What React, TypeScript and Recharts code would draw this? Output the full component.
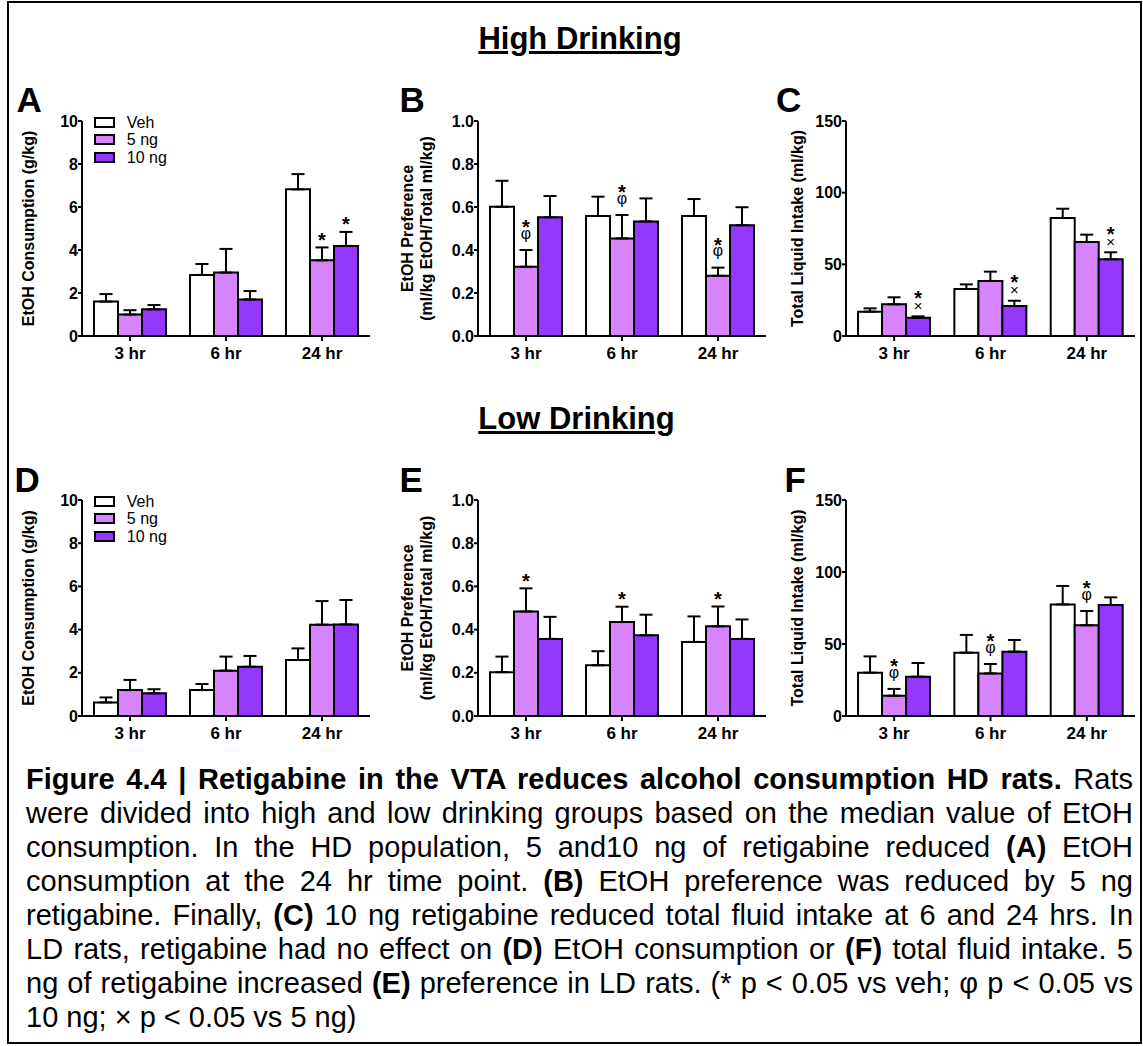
import React from 'react';
import { BarChart, Bar, XAxis, YAxis, ErrorBar, LabelList, Legend } from 'recharts';

const FONT = "'Liberation Sans', Arial, Helvetica, sans-serif";

const timepoints = ['3 hr', '6 hr', '24 hr'];
const groupNames = ['Veh', '5 ng', '10 ng'];
const groupColors = ['#ffffff', '#d783fb', '#9437ff'];

// Panel A - HD EtOH consumption (g/kg)
const aVeh = [1.6, 2.84, 6.82];
const aVehErr = [0.35, 0.51, 0.71];
const a5 = [1.0, 2.95, 3.52];
const a5Err = [0.2, 1.1, 0.6];
const a10 = [1.24, 1.7, 4.19];
const a10Err = [0.2, 0.39, 0.65];
const a5Sig = [[], [], ['*']];
const a10Sig = [[], [], ['*']];

// Panel B - HD EtOH preference
const bVeh = [0.601, 0.558, 0.558];
const bVehErr = [0.121, 0.09, 0.079];
const b5 = [0.322, 0.454, 0.28];
const b5Err = [0.078, 0.109, 0.038];
const b10 = [0.552, 0.533, 0.515];
const b10Err = [0.099, 0.107, 0.084];
const b5Sig = [['*', 'φ'], ['*', 'φ'], ['*', 'φ']];

// Panel C - HD total liquid intake (ml/kg)
const cVeh = [17.0, 32.8, 82.3];
const cVehErr = [2.3, 3.2, 6.5];
const c5 = [22.1, 38.4, 65.6];
const c5Err = [4.9, 6.5, 5.1];
const c10 = [12.8, 20.9, 53.5];
const c10Err = [0.9, 3.7, 4.9];
const c10Sig = [['*', '×'], ['*', '×'], ['*', '×']];

// Panel D - LD EtOH consumption (g/kg)
const dVeh = [0.63, 1.2, 2.59];
const dVehErr = [0.23, 0.28, 0.54];
const d5 = [1.2, 2.1, 4.23];
const d5Err = [0.47, 0.65, 1.09];
const d10 = [1.05, 2.28, 4.24];
const d10Err = [0.19, 0.5, 1.13];

// Panel E - LD EtOH preference
const eVeh = [0.203, 0.235, 0.343];
const eVehErr = [0.072, 0.065, 0.118];
const e5 = [0.484, 0.435, 0.415];
const e5Err = [0.107, 0.071, 0.092];
const e10 = [0.357, 0.374, 0.357];
const e10Err = [0.102, 0.095, 0.09];
const e5Sig = [['*'], ['*'], ['*']];

// Panel F - LD total liquid intake (ml/kg)
const fVeh = [30.1, 44.0, 77.5];
const fVehErr = [11.3, 12.3, 12.8];
const f5 = [14.1, 29.6, 63.0];
const f5Err = [4.7, 6.5, 9.9];
const f10 = [27.3, 44.7, 77.1];
const f10Err = [9.5, 8.1, 5.3];
const f5Sig = [['*', 'φ'], ['*', 'φ'], ['*', 'φ']];

const noSig = [[], [], []];

const consTicks = [0, 2, 4, 6, 8, 10];
const prefTicks = [0, 0.2, 0.4, 0.6, 0.8, 1.0];
const intakeTicks = [0, 50, 100, 150];

const intFmt = (v: number) => String(v);
const decFmt = (v: number) => v.toFixed(1);

type Panel = {
  letter: string;
  letterLeft: number;
  letterBase: number;
  plotLeft: number;
  plotTop: number;
  plotWidth: number;
  plotHeight: number;
  domain: [number, number];
  ticks: number[];
  fmt: (v: number) => string;
  yLabel: string[];
  yLabelX: number[];
  vals: number[][];
  errs: number[][];
  sigs: string[][][];
  legend: boolean;
};

const panels: Panel[] = [
  {
    letter: 'A', letterLeft: 16.5, letterBase: 112,
    plotLeft: 82, plotTop: 121, plotWidth: 288, plotHeight: 215,
    domain: [0, 10], ticks: consTicks, fmt: intFmt,
    yLabel: ['EtOH Consumption (g/kg)'], yLabelX: [28.5],
    vals: [aVeh, a5, a10], errs: [aVehErr, a5Err, a10Err], sigs: [noSig, a5Sig, a10Sig], legend: true,
  },
  {
    letter: 'B', letterLeft: 399.5, letterBase: 112,
    plotLeft: 478, plotTop: 121, plotWidth: 288, plotHeight: 215,
    domain: [0, 1], ticks: prefTicks, fmt: decFmt,
    yLabel: ['EtOH Preference', '(ml/kg EtOH/Total ml/kg)'], yLabelX: [407.5, 426.5],
    vals: [bVeh, b5, b10], errs: [bVehErr, b5Err, b10Err], sigs: [noSig, b5Sig, noSig], legend: false,
  },
  {
    letter: 'C', letterLeft: 776, letterBase: 112,
    plotLeft: 846, plotTop: 121, plotWidth: 289, plotHeight: 215,
    domain: [0, 150], ticks: intakeTicks, fmt: intFmt,
    yLabel: ['Total Liquid Intake (ml/kg)'], yLabelX: [797.5],
    vals: [cVeh, c5, c10], errs: [cVehErr, c5Err, c10Err], sigs: [noSig, noSig, c10Sig], legend: false,
  },
  {
    letter: 'D', letterLeft: 14.5, letterBase: 492,
    plotLeft: 82, plotTop: 500, plotWidth: 288, plotHeight: 216,
    domain: [0, 10], ticks: consTicks, fmt: intFmt,
    yLabel: ['EtOH Consumption (g/kg)'], yLabelX: [28.5],
    vals: [dVeh, d5, d10], errs: [dVehErr, d5Err, d10Err], sigs: [noSig, noSig, noSig], legend: true,
  },
  {
    letter: 'E', letterLeft: 399.5, letterBase: 492,
    plotLeft: 478, plotTop: 500, plotWidth: 288, plotHeight: 216,
    domain: [0, 1], ticks: prefTicks, fmt: decFmt,
    yLabel: ['EtOH Preference', '(ml/kg EtOH/Total ml/kg)'], yLabelX: [407.5, 426.5],
    vals: [eVeh, e5, e10], errs: [eVehErr, e5Err, e10Err], sigs: [noSig, e5Sig, noSig], legend: false,
  },
  {
    letter: 'F', letterLeft: 784.5, letterBase: 492,
    plotLeft: 846, plotTop: 500, plotWidth: 289, plotHeight: 216,
    domain: [0, 150], ticks: intakeTicks, fmt: intFmt,
    yLabel: ['Total Liquid Intake (ml/kg)'], yLabelX: [797.5],
    vals: [fVeh, f5, f10], errs: [fVehErr, f5Err, f10Err], sigs: [noSig, f5Sig, noSig], legend: false,
  },
];

const glyphStyle: Record<string, { fs: number; fw: number; base: number; off: number }> = {
  '*': { fs: 20, fw: 700, base: 11.4, off: 12 },
  'φ': { fs: 16, fw: 400, base: 4.3, off: 15.5 },
  '×': { fs: 15, fw: 400, base: 5.3, off: 11 },
};

function renderSig(lp: any, vals: number[], errs: number[], sigs: string[][]) {
  const vb = lp.viewBox || lp;
  const i = Number(lp.value);
  const marks = sigs[i] || [];
  if (!marks.length) return null;
  const x = Number(vb.x);
  const y = Number(vb.y);
  const w = Number(vb.width);
  const h = Number(vb.height);
  const ppu = h / vals[i];
  const errTop = y - errs[i] * ppu;
  const cx = x + w / 2;
  let center = errTop - glyphStyle[marks[marks.length - 1]].off;
  const spans: any[] = [];
  for (let k = marks.length - 1; k >= 0; k--) {
    const st = glyphStyle[marks[k]];
    spans.unshift(
      <tspan key={k} x={cx} y={center + st.base} fontSize={st.fs} fontWeight={st.fw}>{marks[k]}</tspan>
    );
    center -= 11.7;
  }
  return (
    <text textAnchor="middle" fontFamily={FONT} fill="#000">{spans}</text>
  );
}

const legendContent = () => (
  <div style={{ fontFamily: FONT, fontSize: 16, color: '#000' }}>
    {groupNames.map((g, i) => (
      <div key={g} style={{ display: 'flex', alignItems: 'center', height: 17.3 }}>
        <div style={{ width: 21, height: 11, boxSizing: 'border-box', border: '2px solid #000', background: groupColors[i] }} />
        <div style={{ marginLeft: 11.5, lineHeight: '17px' }}>{g}</div>
      </div>
    ))}
  </div>
);

const seriesKeys = ['veh', 'g5', 'g10'];

function PanelChart({ p }: { p: Panel }) {
  const data = timepoints.map((t, i) => ({
    t,
    idx: i,
    veh: p.vals[0][i], vehE: [0, p.errs[0][i]],
    g5: p.vals[1][i], g5E: [0, p.errs[1][i]],
    g10: p.vals[2][i], g10E: [0, p.errs[2][i]],
  }));
  const chartLeft = p.plotLeft - 80;
  const chartTop = p.plotTop - 20;
  const W = p.plotWidth + 90;
  const H = p.plotHeight + 60;
  const cy = 20 + p.plotHeight / 2;
  const yLabel = () => (
    <g>
      {p.yLabel.map((line, k) => {
        const x = p.yLabelX[k] - chartLeft;
        return (
          <text key={k} x={x} y={cy} transform={`rotate(-90 ${x} ${cy})`} textAnchor="middle"
            dominantBaseline="central" fontSize={16} fontWeight={700} fontFamily={FONT} fill="#000">{line}</text>
        );
      })}
    </g>
  );
  return (
    <div style={{ position: 'absolute', left: chartLeft, top: chartTop }}>
      <BarChart width={W} height={H} data={data} margin={{ top: 20, right: 10, bottom: 10, left: 0 }}
        barCategoryGap="12.5%" barGap={0}>
        <XAxis dataKey="t" height={30} interval={0}
          axisLine={{ stroke: '#000', strokeWidth: 2 }} tickLine={{ stroke: '#000', strokeWidth: 2 }}
          tickSize={5} tickMargin={6}
          tick={{ fill: '#000', fontSize: 17, fontWeight: 700, fontFamily: FONT }} />
        <YAxis width={80} domain={p.domain} ticks={p.ticks} tickFormatter={p.fmt} interval={0} allowDataOverflow
          axisLine={{ stroke: '#000', strokeWidth: 2 }} tickLine={{ stroke: '#000', strokeWidth: 2 }}
          tickSize={4} tickMargin={0}
          tick={{ fill: '#000', fontSize: 16, fontWeight: 700, fontFamily: FONT }}
          label={{ content: yLabel }} />
        {seriesKeys.map((k, gi) => (
          <Bar key={k} dataKey={k} fill={groupColors[gi]} stroke="#000" strokeWidth={2} isAnimationActive={false}>
            <ErrorBar dataKey={k + 'E'} width={6.5} strokeWidth={2} stroke="#000" direction="y" />
            <LabelList dataKey="idx" content={(lp: any) => renderSig(lp, p.vals[gi], p.errs[gi], p.sigs[gi])} />
          </Bar>
        ))}
        {p.legend && (
          <Legend layout="vertical" align="center" verticalAlign="middle" content={legendContent}
            wrapperStyle={{ left: 92.3, top: 13, width: 120, height: 52 }} />
        )}
      </BarChart>
    </div>
  );
}

const B = ({ children }: { children: any }) => <b>{children}</b>;

const captionLines: any[] = [
  <><B>Figure 4.4 | Retigabine in the VTA reduces alcohol consumption HD rats.</B> Rats</>,
  <>were divided into high and low drinking groups based on the median value of EtOH</>,
  <>consumption. In the HD population, 5 and10 ng of retigabine reduced <B>(A)</B> EtOH</>,
  <>consumption at the 24 hr time point. <B>(B)</B> EtOH preference was reduced by 5 ng</>,
  <>retigabine. Finally, <B>(C)</B> 10 ng retigabine reduced total fluid intake at 6 and 24 hrs. In</>,
  <>LD rats, retigabine had no effect on <B>(D)</B> EtOH consumption or <B>(F)</B> total fluid intake. 5</>,
  <>ng of retigabine increased <B>(E)</B> preference in LD rats. (* p &lt; 0.05 vs veh; φ p &lt; 0.05 vs</>,
  <>10 ng; × p &lt; 0.05 vs 5 ng)</>,
];

export default function App() {
  const title = (text: string, cx: number, base: number) => (
    <div style={{
      position: 'absolute', left: cx - 200, width: 400, top: base - 26.2, textAlign: 'center',
      fontSize: 31, lineHeight: '31px', fontWeight: 700, textDecoration: 'underline',
      textDecorationThickness: '2.5px',
    }}>{text}</div>
  );
  return (
    <div style={{ position: 'absolute', left: 0, top: 0, width: 1143, height: 1046, background: '#fff', fontFamily: FONT, color: '#000', overflow: 'hidden' }}>
      <div style={{ position: 'absolute', left: 6.5, top: 0.5, width: 1135, height: 1043, border: '2px solid #000', boxSizing: 'border-box' }} />
      {title('High Drinking', 580, 49)}
      {title('Low Drinking', 576.5, 429)}
      {panels.map((p) => (
        <React.Fragment key={p.letter}>
          <PanelChart p={p} />
          <div style={{ position: 'absolute', left: p.letterLeft, top: p.letterBase - 29.6, fontSize: 35, lineHeight: '35px', fontWeight: 700 }}>{p.letter}</div>
        </React.Fragment>
      ))}
      <div style={{ position: 'absolute', left: 26, top: 762, width: 1107, fontSize: 29, lineHeight: '34px' }}>
        {captionLines.map((line, i) => (
          <div key={i} style={{ textAlign: i < captionLines.length - 1 ? 'justify' : 'left', textAlignLast: i < captionLines.length - 1 ? 'justify' : 'left' } as any}>{line}</div>
        ))}
      </div>
    </div>
  );
}
